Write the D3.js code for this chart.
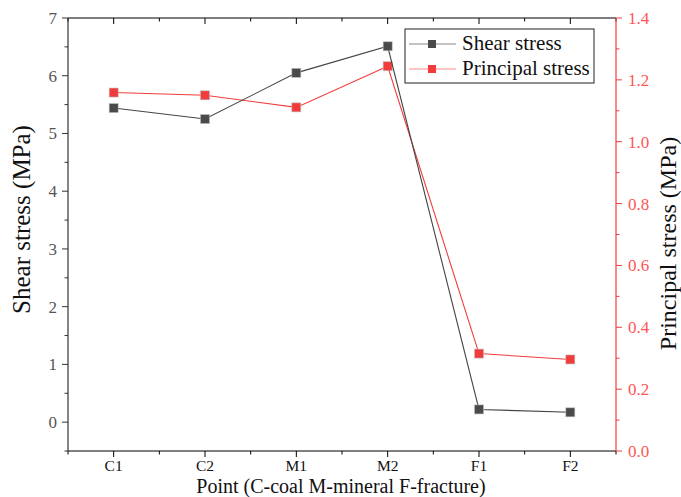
<!DOCTYPE html>
<html><head><meta charset="utf-8">
<script src="https://cdn.jsdelivr.net/npm/d3@7"></script>
<style>body{margin:0;background:#fff}svg{display:block}</style>
</head><body>
<svg id="c" width="681" height="497" font-family="'Liberation Serif','DejaVu Serif','Times New Roman',serif"></svg>
<script>
const categories = ["C1","C2","M1","M2","F1","F2"];
const shearStress = [5.44, 5.25, 6.05, 6.51, 0.22, 0.17];
const principalStress = [1.159, 1.150, 1.111, 1.244, 0.315, 0.296];
const leftTicks = [0,1,2,3,4,5,6,7];
const rightTicks = [0,0.2,0.4,0.6,0.8,1.0,1.2,1.4];

const svg = d3.select("#c");
const L=68, R=616, T=18, B=451;
const x = d3.scaleLinear().domain([0.5, 6.5]).range([L, R]);
const yL = d3.scaleLinear().domain([-0.5, 7]).range([B, T]);
const yR = d3.scaleLinear().domain([0, 1.4]).range([B, T]);
const gray="#555", red="#f23c3c";

svg.append("line").attr("x1",L).attr("x2",R).attr("y1",T).attr("y2",T).attr("stroke","#000").attr("stroke-width",1.2);

const xMajor = d3.range(1,7), xMinor = d3.range(0.5,7,1);
const gx = svg.append("g");
gx.append("line").attr("x1",L).attr("x2",R).attr("y1",B).attr("y2",B).attr("stroke","#000").attr("stroke-width",1.2);
xMajor.forEach((v,i)=>{
  gx.append("line").attr("x1",x(v)).attr("x2",x(v)).attr("y1",B).attr("y2",B+6).attr("stroke","#000");
  gx.append("line").attr("x1",x(v)).attr("x2",x(v)).attr("y1",T).attr("y2",T+6).attr("stroke","#000");
  gx.append("text").attr("x",x(v)).attr("y",B+20).attr("text-anchor","middle").attr("font-size",15.5).attr("fill","#111").text(categories[i]);
});
xMinor.forEach(v=>{
  gx.append("line").attr("x1",x(v)).attr("x2",x(v)).attr("y1",B).attr("y2",B+3.5).attr("stroke","#000");
  gx.append("line").attr("x1",x(v)).attr("x2",x(v)).attr("y1",T).attr("y2",T+3.5).attr("stroke","#000");
});
svg.append("text").attr("x",(L+R)/2-1).attr("y",493).attr("text-anchor","middle").attr("font-size",20).attr("fill","#111").text("Point (C-coal M-mineral F-fracture)");

const gl = svg.append("g");
gl.append("line").attr("x1",L).attr("x2",L).attr("y1",T).attr("y2",B).attr("stroke","#333").attr("stroke-width",1.2);
leftTicks.forEach(v=>{
  gl.append("line").attr("x1",L-6).attr("x2",L).attr("y1",yL(v)).attr("y2",yL(v)).attr("stroke","#333");
  gl.append("text").attr("x",L-11).attr("y",yL(v)+6).attr("text-anchor","end").attr("font-size",17).attr("fill",gray).text(v);
});
d3.range(-0.5,7,1).forEach(v=>{
  gl.append("line").attr("x1",L-3.5).attr("x2",L).attr("y1",yL(v)).attr("y2",yL(v)).attr("stroke","#333");
});
svg.append("text").attr("transform",`translate(30,${(T+B)/2-15}) rotate(-90)`).attr("text-anchor","middle").attr("font-size",25).attr("fill","#111").text("Shear stress (MPa)");

const gr = svg.append("g");
gr.append("line").attr("x1",R).attr("x2",R).attr("y1",T).attr("y2",B).attr("stroke",red).attr("stroke-width",1.2);
rightTicks.forEach(v=>{
  gr.append("line").attr("x1",R).attr("x2",R+6).attr("y1",yR(v)).attr("y2",yR(v)).attr("stroke",red);
  gr.append("text").attr("x",R+12).attr("y",yR(v)+6).attr("text-anchor","start").attr("font-size",17).attr("fill","#f55").text(v.toFixed(1));
});
d3.range(0.1,1.4,0.2).forEach(v=>{
  gr.append("line").attr("x1",R).attr("x2",R+3.5).attr("y1",yR(v)).attr("y2",yR(v)).attr("stroke",red);
});
svg.append("text").attr("transform",`translate(676,${(T+B)/2+9}) rotate(-90)`).attr("text-anchor","middle").attr("font-size",24).attr("fill","#111").text("Principal stress (MPa)");

function series(vals, y, col, lineCol){
  const line = d3.line().x((d,i)=>x(i+1)).y(d=>y(d));
  svg.append("path").datum(vals).attr("d",line).attr("fill","none").attr("stroke",lineCol).attr("stroke-width",1.1);
  svg.selectAll(null).data(vals).enter().append("rect")
    .attr("x",(d,i)=>x(i+1)-4.5).attr("y",d=>y(d)-4.5).attr("width",9).attr("height",9)
    .attr("fill",col).attr("stroke","#bbb").attr("stroke-width",0.6);
}
series(principalStress, yR, red, "#f23c3c");
series(shearStress, yL, "#4a4a4a", "#444");

const lg = svg.append("g");
lg.append("rect").attr("x",405).attr("y",29).attr("width",189).attr("height",54).attr("fill","#fff").attr("stroke","#222").attr("stroke-width",1);
const legendItems = [["Shear stress","#4a4a4a","#888"],["Principal stress",red,"#f88"]];
legendItems.forEach((it,i)=>{
  const cy = 44 + i*25;
  lg.append("line").attr("x1",409).attr("x2",456).attr("y1",cy).attr("y2",cy).attr("stroke",it[2]).attr("stroke-width",1.2);
  lg.append("rect").attr("x",428).attr("y",cy-4).attr("width",8).attr("height",8).attr("fill",it[1]);
  lg.append("text").attr("x",462).attr("y",cy+6).attr("font-size",21).attr("fill","#111").text(it[0]);
});
</script>
</body></html>
